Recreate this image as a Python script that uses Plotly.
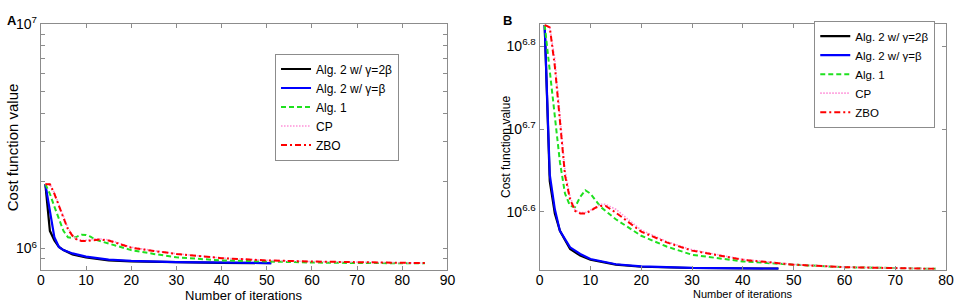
import plotly.graph_objects as go

# ---------------- Panel A data ----------------
a_x_alg2_2b = [1, 2, 3, 4, 5, 7, 10, 15, 20, 30, 40, 51]
a_y_alg2_2b = [1.936e6, 1.199e6, 1.086e6, 1.016e6, 0.984e6, 0.942e6, 0.912e6, 0.885e6, 0.877e6, 0.867e6, 0.863e6, 0.861e6]

a_x_alg2_b = [1, 2, 3, 4, 5, 7, 10, 15, 20, 30, 40, 51]
a_y_alg2_b = [1.936e6, 1.486e6, 1.122e6, 1.016e6, 0.984e6, 0.951e6, 0.920e6, 0.893e6, 0.881e6, 0.869e6, 0.864e6, 0.861e6]

a_x_alg1 = [1, 2, 3, 4, 5, 6, 7, 8, 9, 10, 11, 12, 15, 20, 25, 30, 40, 50, 60, 70, 85]
a_y_alg1 = [1.936e6, 1.754e6, 1.538e6, 1.346e6, 1.199e6, 1.122e6, 1.114e6, 1.130e6, 1.153e6, 1.150e6,
            1.130e6, 1.096e6, 1.052e6, 0.984e6, 0.946e6, 0.914e6, 0.885e6, 0.875e6, 0.866e6, 0.862e6, 0.859e6]

a_x_cp = [1, 2, 3, 4, 5, 6, 7, 8, 9, 10, 11, 12, 13, 15, 20, 25, 30, 40, 50, 60, 70, 85]
a_y_cp = [1.936e6, 1.936e6, 1.770e6, 1.560e6, 1.390e6, 1.235e6, 1.150e6, 1.100e6, 1.086e6, 1.086e6, 1.092e6,
          1.104e6, 1.104e6, 1.094e6, 1.014e6, 0.978e6, 0.948e6, 0.907e6, 0.886e6, 0.875e6, 0.867e6, 0.861e6]

a_x_zbo = [1, 2, 3, 4, 5, 6, 7, 8, 9, 10, 11, 12, 13, 15, 20, 25, 30, 40, 50, 60, 70, 85]
a_y_zbo = [1.936e6, 1.936e6, 1.754e6, 1.538e6, 1.371e6, 1.219e6, 1.140e6, 1.094e6, 1.081e6, 1.081e6, 1.086e6,
           1.096e6, 1.096e6, 1.086e6, 1.009e6, 0.975e6, 0.946e6, 0.906e6, 0.885e6, 0.875e6, 0.867e6, 0.861e6]

# ---------------- Panel B data ----------------
b_x_alg2_2b = [1, 2, 3, 4, 5, 6, 8, 10, 15, 20, 30, 40, 47]
b_y_alg2_2b = [6.699e6, 4.335e6, 3.963e6, 3.775e6, 3.681e6, 3.589e6, 3.524e6, 3.483e6, 3.436e6, 3.416e6, 3.404e6, 3.400e6, 3.398e6]

b_x_alg2_b = [1, 2, 3, 4, 5, 6, 8, 10, 15, 20, 30, 40, 47]
b_y_alg2_b = [6.699e6, 4.416e6, 4.009e6, 3.775e6, 3.690e6, 3.606e6, 3.540e6, 3.491e6, 3.440e6, 3.420e6, 3.405e6, 3.400e6, 3.398e6]

b_x_alg1 = [1, 2, 3, 4, 5, 6, 7, 8, 9, 10, 12, 15, 20, 25, 30, 40, 50, 60, 70, 78]
b_y_alg1 = [6.699e6, 5.888e6, 5.164e6, 4.571e6, 4.188e6, 4.046e6, 4.036e6, 4.150e6, 4.227e6, 4.188e6,
            4.036e6, 3.899e6, 3.724e6, 3.614e6, 3.532e6, 3.467e6, 3.436e6, 3.412e6, 3.404e6, 3.396e6]

b_x_cp = [1, 2, 3, 4, 5, 6, 7, 8, 9, 10, 11, 12, 13, 15, 20, 25, 30, 40, 50, 60, 70, 78]
b_y_cp = [6.699e6, 6.653e6, 6.095e6, 5.188e6, 4.467e6, 4.150e6, 3.999e6, 3.972e6, 3.972e6, 3.999e6, 4.036e6,
          4.064e6, 4.064e6, 4.009e6, 3.784e6, 3.664e6, 3.581e6, 3.487e6, 3.438e6, 3.413e6, 3.404e6, 3.396e6]

b_x_zbo = [1, 2, 3, 4, 5, 6, 7, 8, 9, 10, 11, 12, 13, 15, 20, 25, 30, 40, 50, 60, 70, 78]
b_y_zbo = [6.699e6, 6.653e6, 5.970e6, 5.070e6, 4.406e6, 4.121e6, 3.990e6, 3.963e6, 3.963e6, 3.990e6, 4.027e6,
           4.046e6, 4.046e6, 3.972e6, 3.767e6, 3.656e6, 3.573e6, 3.483e6, 3.436e6, 3.412e6, 3.404e6, 3.396e6]

series_names = ["Alg. 2 w/ γ=2β", "Alg. 2 w/ γ=β", "Alg. 1", "CP", "ZBO"]

a_xticks = [0, 10, 20, 30, 40, 50, 60, 70, 80, 90]
b_xticks = [0, 10, 20, 30, 40, 50, 60, 70, 80]
a_yticks = [1e6, 1e7]
a_yticklabels = ["10<sup>6</sup>", "10<sup>7</sup>"]
a_yminor = [9e5, 2e6, 3e6, 4e6, 5e6, 6e6, 7e6, 8e6, 9e6]
b_yticks = [10 ** 6.6, 10 ** 6.7, 10 ** 6.8]
b_yticklabels = ["10<sup>6.6</sup>", "10<sup>6.7</sup>", "10<sup>6.8</sup>"]

styles = [
    dict(color="#000000", width=2.2, dash="solid"),
    dict(color="#0000ff", width=2.2, dash="solid"),
    dict(color="#1fe01f", width=2, dash="5px,3px"),
    dict(color="#ff8fd8", width=1.6, dash="1.5px,1.5px"),
    dict(color="#ff0000", width=2, dash="6px,3px,2px,3px"),
]

FONT = "Liberation Sans, Arial, sans-serif"
GRAY = "#8c8c8c"

fig = go.Figure()

a_data = [(a_x_alg2_2b, a_y_alg2_2b), (a_x_alg2_b, a_y_alg2_b), (a_x_alg1, a_y_alg1), (a_x_cp, a_y_cp), (a_x_zbo, a_y_zbo)]
b_data = [(b_x_alg2_2b, b_y_alg2_2b), (b_x_alg2_b, b_y_alg2_b), (b_x_alg1, b_y_alg1), (b_x_cp, b_y_cp), (b_x_zbo, b_y_zbo)]

for (xs, ys), name, st in zip(a_data, series_names, styles):
    fig.add_trace(go.Scatter(x=xs, y=ys, mode="lines", name=name, line=st,
                             xaxis="x", yaxis="y", legend="legend"))
for (xs, ys), name, st in zip(b_data, series_names, styles):
    fig.add_trace(go.Scatter(x=xs, y=ys, mode="lines", name=name, line=st,
                             xaxis="x2", yaxis="y2", legend="legend2"))


def axis_common(size):
    return dict(showline=True, linecolor=GRAY, linewidth=1, mirror="ticks", ticks="inside",
                ticklen=4, tickcolor=GRAY, showgrid=False, zeroline=False,
                tickfont=dict(family=FONT, size=size, color="black"))


fig.update_layout(
    width=964, height=303,
    margin=dict(l=0, r=0, t=0, b=0),
    paper_bgcolor="white", plot_bgcolor="white",
    font=dict(family=FONT, color="black"),
    xaxis=dict(domain=[0.0387, 0.4658], range=[0, 90], tickmode="array", tickvals=a_xticks,
               anchor="y", ticklabelstandoff=-3, **axis_common(14)),
    yaxis=dict(domain=[0.1132, 0.9515], type="log", range=[5.905, 7], tickmode="array",
               tickvals=a_yticks, ticktext=a_yticklabels, anchor="x",
               minor=dict(tickvals=a_yminor, ticks="inside", ticklen=4, tickcolor=GRAY),
               **axis_common(14)),
    xaxis2=dict(domain=[0.5626, 0.9896], range=[0, 80], tickmode="array", tickvals=b_xticks,
                anchor="y2", ticklabelstandoff=-3, **axis_common(14)),
    yaxis2=dict(domain=[0.1132, 0.9515], type="log", range=[6.5298, 6.8269], tickmode="array",
                tickvals=b_yticks, ticktext=b_yticklabels, anchor="x2", **axis_common(14)),
    legend=dict(x=400 / 964, y=1 - 45 / 303, xanchor="right", yanchor="top",
                bgcolor="white", bordercolor=GRAY, borderwidth=1,
                font=dict(family=FONT, size=12, color="black"), itemwidth=30, tracegroupgap=0),
    legend2=dict(x=943 / 964, y=1 - 11 / 303, xanchor="right", yanchor="top",
                 bgcolor="white", bordercolor=GRAY, borderwidth=1,
                 font=dict(family=FONT, size=11.5, color="black"), itemwidth=30, tracegroupgap=0),
    annotations=[
        dict(text="<b>A</b>", x=1 / 964, y=1 - 1 / 303, xref="paper", yref="paper",
             xanchor="left", yanchor="top", showarrow=False, font=dict(family=FONT, size=13)),
        dict(text="<b>B</b>", x=503 / 964, y=1 - 1 / 303, xref="paper", yref="paper",
             xanchor="left", yanchor="top", showarrow=False, font=dict(family=FONT, size=13)),
        dict(text="Cost function value", x=8.3 / 964, y=1 - 141.7 / 303, xref="paper", yref="paper",
             xanchor="center", yanchor="middle", textangle=-90, showarrow=False,
             font=dict(family=FONT, size=15)),
        dict(text="Number of iterations", x=243.3 / 964, y=1 - 295 / 303, xref="paper", yref="paper",
             xanchor="center", yanchor="middle", showarrow=False, font=dict(family=FONT, size=13)),
        dict(text="Cost function value", x=508.3 / 964, y=1 - 141.7 / 303, xref="paper", yref="paper",
             xanchor="center", yanchor="middle", textangle=-90, showarrow=False,
             font=dict(family=FONT, size=12)),
        dict(text="Number of iterations", x=748.3 / 964, y=1 - 294 / 303, xref="paper", yref="paper",
             xanchor="center", yanchor="middle", showarrow=False, font=dict(family=FONT, size=11)),
    ],
)

fig.write_html("out.html", config={"displayModeBar": False},
               post_script="document.body.style.margin='0px';")
